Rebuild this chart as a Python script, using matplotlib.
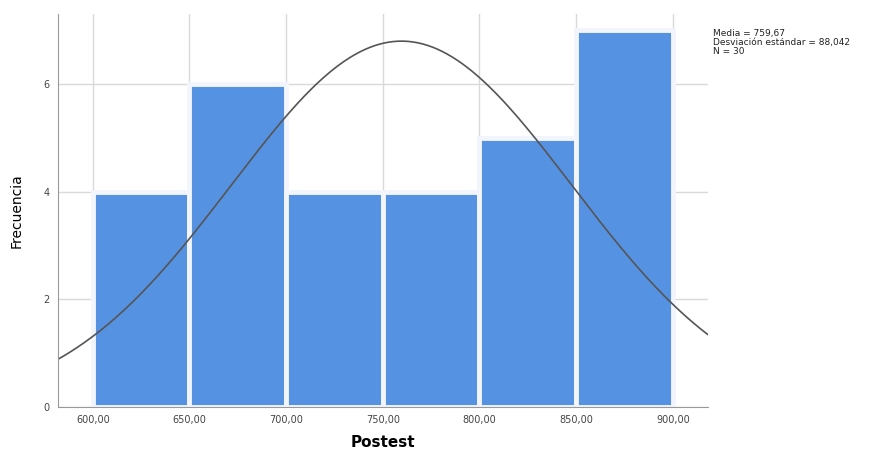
import numpy as np
import matplotlib.pyplot as plt

# histograma de Postest con curva normal
bordes = [600, 650, 700, 750, 800, 850, 900]
frecuencias = [4, 6, 4, 4, 5, 7]
media = 759.67
desviacion = 88.042
n = 30

fig = plt.figure(figsize=(8.79, 4.53), dpi=100)
ax = fig.add_axes([0.066, 0.1015, 0.739, 0.8675])

ax.grid(True, color='#d9d9d9', linewidth=1)
ax.set_axisbelow(True)

ancho = bordes[1] - bordes[0]
ax.bar(bordes[:-1], frecuencias, width=ancho, align='edge',
       color='#5592e2', edgecolor='#f2f6fc', linewidth=3.5)

x = np.linspace(582, 918, 400)
y = n * ancho / (desviacion * np.sqrt(2 * np.pi)) * np.exp(-0.5 * ((x - media) / desviacion) ** 2)
ax.plot(x, y, color='#555555', linewidth=1.2)

ax.set_xlim(582, 918)
ax.set_ylim(0, 7.3)
ax.set_xticks(bordes)
ax.set_xticklabels([f'{b:.2f}'.replace('.', ',') for b in bordes], fontsize=7, color='#444444')
ax.set_yticks([0, 2, 4, 6])
ax.set_yticklabels(['0', '2', '4', '6'], fontsize=7, color='#444444')
ax.tick_params(length=0, pad=6)

for lado in ['top', 'right']:
    ax.spines[lado].set_visible(False)
for lado in ['left', 'bottom']:
    ax.spines[lado].set_color('#999999')

ax.set_xlabel('Postest', fontsize=11, fontweight='bold', labelpad=7)
ax.set_ylabel('Frecuencia', fontsize=10, labelpad=14)

fig.text(0.811, 0.935,
         f'Media = {media:.2f}'.replace('.', ',') + '\n'
         + f'Desviación estándar = {desviacion:.3f}'.replace('.', ',') + '\n'
         + f'N = {n}',
         fontsize=6.5, va='top', ha='left', linespacing=1.0, color='#222222')

fig.savefig('out.png', dpi=100)
